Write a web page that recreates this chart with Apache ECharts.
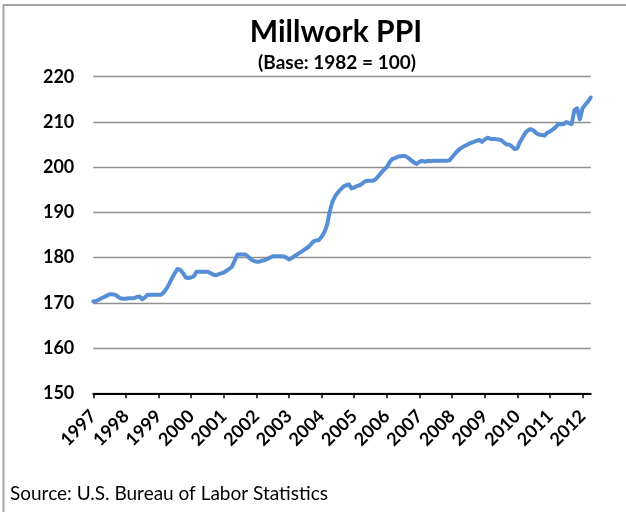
<!DOCTYPE html>
<html>
<head>
<meta charset="utf-8">
<script src="https://cdn.jsdelivr.net/npm/echarts@6/dist/echarts.min.js"></script>
<style>
html,body{margin:0;padding:0;background:#fff;}
#chart{width:626px;height:512px;}
</style>
</head>
<body>
<div id="chart"></div>
<script>
// Year tick labels (one category per month, Jan 1997 .. Apr 2012)
const years = ['1997','1998','1999','2000','2001','2002','2003','2004','2005','2006','2007','2008','2009','2010','2011','2012'];
const monthsInLastYear = 4;

// Millwork PPI, monthly values
const ppi = [
  170.3, 170.4, 170.7, 171.0, 171.3, 171.6, 171.9, 171.9, 171.8, 171.4, 171.0, 170.9, // 1997
  170.9, 171.0, 171.0, 171.0, 171.3, 171.4, 170.8, 171.2, 171.8, 171.8, 171.8, 171.8, // 1998
  171.8, 171.8, 172.4, 173.2, 174.3, 175.5, 176.6, 177.5, 177.3, 176.6, 175.6, 175.5, // 1999
  175.6, 175.9, 176.9, 176.9, 176.9, 176.9, 176.9, 176.6, 176.3, 176.1, 176.3, 176.5, // 2000
  176.7, 177.1, 177.5, 178.0, 179.3, 180.7, 180.7, 180.7, 180.7, 180.2, 179.6, 179.3, // 2001
  179.1, 179.1, 179.3, 179.4, 179.7, 180.0, 180.3, 180.3, 180.3, 180.3, 180.3, 180.0, // 2002
  179.6, 179.9, 180.3, 180.7, 181.1, 181.5, 181.9, 182.3, 182.9, 183.6, 183.8, 183.9, // 2003
  184.6, 185.6, 187.2, 190.2, 192.4, 193.6, 194.4, 195.1, 195.7, 196.0, 196.2, 195.3, // 2004
  195.5, 195.8, 196.0, 196.4, 196.9, 197.0, 197.0, 197.0, 197.4, 198.1, 198.8, 199.5, // 2005
  200.0, 201.1, 201.8, 202.0, 202.3, 202.4, 202.5, 202.4, 202.0, 201.5, 201.0, 200.7, // 2006
  201.2, 201.4, 201.2, 201.4, 201.3, 201.4, 201.4, 201.4, 201.4, 201.4, 201.4, 201.5, // 2007
  202.2, 202.9, 203.6, 204.1, 204.5, 204.8, 205.1, 205.4, 205.6, 205.8, 206.0, 205.6, // 2008
  206.1, 206.5, 206.3, 206.2, 206.2, 206.1, 206.0, 205.5, 205.0, 205.0, 204.6, 204.0, // 2009
  204.2, 205.6, 206.6, 207.6, 208.2, 208.4, 208.1, 207.5, 207.2, 207.1, 207.0, 207.6, // 2010
  207.9, 208.3, 208.8, 209.5, 209.5, 209.5, 210.0, 209.7, 209.5, 212.6, 213.0, 210.6, // 2011
  213.0, 213.8, 214.5, 215.4                                                          // 2012
];

const yTicks = { min: 150, max: 220, step: 10 };

const categories = [];
years.forEach(function (y, i) {
  const n = (i === years.length - 1) ? monthsInLastYear : 12;
  for (let m = 1; m <= n; m++) categories.push(y + '-' + (m < 10 ? '0' + m : m));
});

const chart = echarts.init(document.getElementById('chart'), null, { renderer: 'canvas' });
const FONT = 'Lato';

chart.setOption({
  animation: false,
  backgroundColor: '#ffffff',
  title: [
    {
      text: 'Millwork PPI',
      left: 336, top: 17, padding: 0, textAlign: 'center',
      textStyle: { fontFamily: FONT, fontWeight: 'bold', fontSize: 30, color: '#000' }
    },
    {
      text: '(Base: 1982 = 100)',
      left: 337, top: 53, padding: 0, textAlign: 'center',
      textStyle: { fontFamily: FONT, fontWeight: 'bold', fontSize: 19, color: '#000' }
    },
    {
      text: 'Source: U.S. Bureau of Labor Statistics',
      left: 10, top: 484, padding: 0,
      textStyle: { fontFamily: FONT, fontWeight: 'normal', fontSize: 19, color: '#000' }
    }
  ],
  graphic: [
    {
      type: 'polyline',
      silent: true,
      shape: { points: [[3.5, 520], [3.5, 5], [640, 5]] },
      style: { stroke: '#a6a6a6', lineWidth: 2, fill: null }
    }
  ],
  grid: {
    left: 93.3, right: 35.3, top: 76.7, bottom: 118.7,
    containLabel: false, outerBoundsMode: 'none'
  },
  xAxis: {
    type: 'category',
    data: categories,
    boundaryGap: false,
    axisLine: { show: true, lineStyle: { color: '#000', width: 2 } },
    axisTick: { show: true, interval: 11, length: 5, lineStyle: { color: '#000', width: 1.5 } },
    axisLabel: {
      interval: 11,
      rotate: 45,
      margin: 20,
      fontFamily: FONT, fontWeight: 'bold', fontSize: 18, color: '#000',
      formatter: function (v) { return v.slice(0, 4); }
    },
    splitLine: { show: false }
  },
  yAxis: {
    type: 'value',
    min: yTicks.min, max: yTicks.max, interval: yTicks.step,
    axisLine: { show: false },
    axisTick: { show: false },
    axisLabel: { margin: 19, fontFamily: FONT, fontWeight: 'bold', fontSize: 18, color: '#000' },
    splitLine: { show: true, lineStyle: { color: '#8f8f8f', width: 1.3 } }
  },
  series: [
    {
      type: 'line',
      data: ppi,
      showSymbol: false,
      smooth: false,
      lineStyle: { color: '#558ED5', width: 4, cap: 'round', join: 'round' },
      itemStyle: { color: '#558ED5' }
    }
  ]
});
</script>
</body>
</html>
